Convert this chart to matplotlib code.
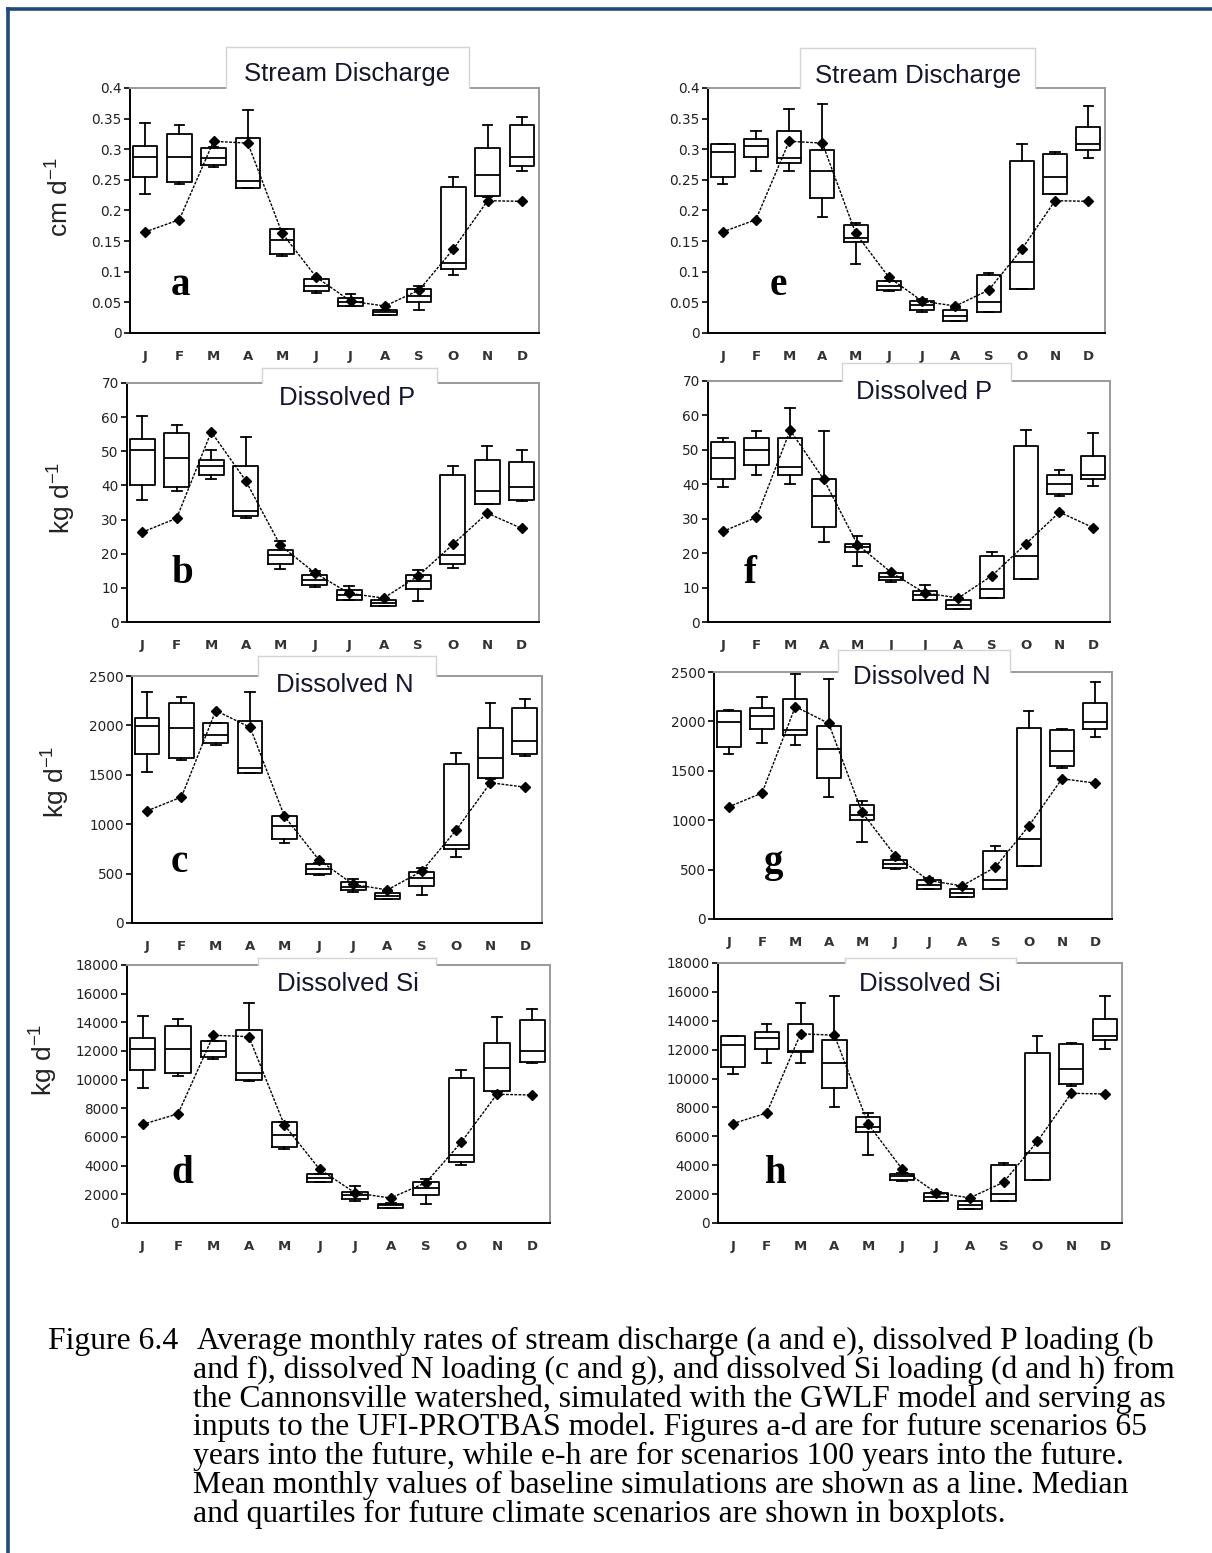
import matplotlib
matplotlib.use("Agg")
import matplotlib.pyplot as plt
from matplotlib.lines import Line2D
from matplotlib.patches import Rectangle

plt.rcParams["mathtext.fontset"] = "custom"
plt.rcParams["mathtext.rm"] = "Liberation Sans"
plt.rcParams["mathtext.default"] = "regular"

W, H = 1212, 1553
DPI = 100

months = ["J", "F", "M", "A", "M", "J", "J", "A", "S", "O", "N", "D"]

# ---- baseline simulations (mean monthly values) ----
base_q = [0.165, 0.185, 0.313, 0.310, 0.163, 0.091, 0.052, 0.044, 0.070, 0.137, 0.216, 0.215]
base_p = [26.3, 30.4, 55.7, 41.4, 22.5, 14.4, 8.4, 7.0, 13.5, 22.7, 31.9, 27.4]
base_n = [1135, 1275, 2150, 1980, 1080, 640, 390, 335, 525, 940, 1420, 1375]
base_si = [6880, 7620, 13100, 13000, 6840, 3740, 2100, 1740, 2820, 5650, 8980, 8930]

# ---- future scenarios, 65 years: stream discharge (cm/d) ----
q65_lo = [0.227, 0.244, 0.271, 0.236, 0.125, 0.066, 0.044, 0.030, 0.037, 0.094, 0.222, 0.264]
q65_q1 = [0.255, 0.246, 0.275, 0.237, 0.129, 0.068, 0.044, 0.030, 0.051, 0.104, 0.224, 0.272]
q65_md = [0.288, 0.288, 0.285, 0.248, 0.152, 0.076, 0.051, 0.034, 0.060, 0.115, 0.258, 0.288]
q65_q3 = [0.306, 0.325, 0.302, 0.318, 0.170, 0.088, 0.057, 0.037, 0.072, 0.238, 0.302, 0.339]
q65_hi = [0.343, 0.340, 0.304, 0.364, 0.170, 0.088, 0.064, 0.037, 0.077, 0.255, 0.339, 0.353]

# ---- future scenarios, 100 years: stream discharge (cm/d) ----
q100_lo = [0.244, 0.265, 0.265, 0.190, 0.112, 0.068, 0.035, 0.019, 0.034, 0.072, 0.227, 0.285]
q100_q1 = [0.255, 0.288, 0.278, 0.220, 0.149, 0.071, 0.037, 0.019, 0.034, 0.072, 0.227, 0.298]
q100_md = [0.296, 0.305, 0.286, 0.265, 0.155, 0.076, 0.046, 0.027, 0.051, 0.116, 0.255, 0.309]
q100_q3 = [0.309, 0.316, 0.329, 0.299, 0.177, 0.085, 0.052, 0.037, 0.095, 0.281, 0.292, 0.336]
q100_hi = [0.309, 0.330, 0.366, 0.374, 0.179, 0.085, 0.056, 0.041, 0.098, 0.309, 0.295, 0.370]

# ---- dissolved P (kg/d), 65 years ----
p65_lo = [35.8, 38.3, 41.9, 30.5, 15.5, 10.3, 6.5, 4.8, 6.1, 15.8, 34.6, 35.3]
p65_q1 = [40.0, 39.5, 43.2, 30.9, 17.0, 10.7, 6.5, 4.8, 9.7, 17.1, 34.6, 35.8]
p65_md = [50.5, 48.0, 45.6, 32.4, 19.7, 12.2, 8.0, 5.6, 12.1, 19.5, 38.3, 39.5]
p65_q3 = [53.6, 55.4, 47.5, 45.6, 21.2, 13.9, 9.5, 6.5, 13.9, 43.2, 47.5, 46.8]
p65_hi = [60.2, 57.8, 50.5, 54.2, 23.6, 14.8, 10.6, 6.7, 15.1, 45.6, 51.6, 50.5]

# ---- dissolved P (kg/d), 100 years ----
p100_lo = [39.1, 42.7, 40.2, 23.3, 16.2, 11.6, 6.3, 3.9, 7.0, 12.4, 36.6, 39.6]
p100_q1 = [41.4, 45.6, 42.7, 27.6, 20.4, 12.1, 6.3, 3.9, 7.0, 12.4, 37.3, 41.4]
p100_md = [47.5, 49.9, 45.1, 36.6, 21.8, 13.1, 7.8, 5.0, 9.5, 19.2, 40.2, 42.7]
p100_q3 = [52.4, 53.5, 53.5, 41.4, 22.8, 14.3, 8.9, 6.3, 19.2, 51.1, 42.7, 48.2]
p100_hi = [53.5, 55.5, 62.1, 55.5, 25.0, 14.3, 10.7, 6.8, 20.4, 55.9, 44.1, 55.0]

# ---- dissolved N (kg/d), 65 years ----
n65_lo = [1526, 1651, 1802, 1516, 809, 482, 313, 243, 286, 667, 1455, 1695]
n65_q1 = [1711, 1668, 1819, 1523, 852, 499, 337, 243, 371, 748, 1465, 1711]
n65_md = [1994, 1971, 1903, 1567, 984, 546, 364, 276, 455, 792, 1674, 1843]
n65_q3 = [2072, 2223, 2028, 2048, 1085, 600, 411, 303, 515, 1607, 1971, 2180]
n65_hi = [2341, 2284, 2028, 2341, 1088, 606, 448, 320, 556, 1718, 2223, 2264]

# ---- dissolved N (kg/d), 100 years ----
n100_lo = [1673, 1781, 1765, 1235, 776, 506, 304, 223, 307, 540, 1528, 1842]
n100_q1 = [1738, 1927, 1866, 1427, 1005, 516, 304, 223, 307, 540, 1545, 1927]
n100_md = [1994, 2058, 1916, 1721, 1056, 560, 348, 263, 398, 813, 1704, 1994]
n100_q3 = [2102, 2136, 2227, 1950, 1150, 600, 391, 304, 692, 1933, 1910, 2186]
n100_hi = [2119, 2247, 2483, 2433, 1191, 607, 415, 331, 736, 2102, 1923, 2396]

# ---- dissolved Si (kg/d), 65 years ----
si65_lo = [9386, 10271, 11435, 9898, 5194, 2865, 1537, 1071, 1351, 4029, 9153, 11133]
si65_q1 = [10667, 10434, 11552, 9968, 5310, 2865, 1700, 1071, 1980, 4262, 9200, 11249]
si65_md = [12134, 12134, 11994, 10434, 6125, 3144, 1980, 1234, 2469, 4728, 10830, 11994]
si65_q3 = [12879, 13741, 12693, 13462, 7057, 3400, 2166, 1351, 2865, 10085, 12577, 14161]
si65_hi = [14463, 14207, 12693, 15325, 7057, 3447, 2562, 1421, 3098, 10667, 14347, 14929]

# ---- dissolved Si (kg/d), 100 years ----
si100_lo = [10340, 11078, 11078, 8032, 4731, 2931, 1546, 969, 1546, 2954, 9509, 12048]
si100_q1 = [10778, 12071, 11817, 9347, 6301, 3000, 1546, 969, 1546, 2954, 9647, 12648]
si100_md = [12348, 12809, 11932, 11078, 6624, 3277, 1777, 1223, 2008, 4847, 10663, 12925]
si100_q3 = [12971, 13225, 13779, 12648, 7339, 3416, 2077, 1546, 4039, 11771, 12394, 14125]
si100_hi = [12971, 13802, 15233, 15694, 7616, 3462, 2146, 1546, 4154, 12971, 12463, 15694]

titles = ["Stream Discharge", "Dissolved P", "Dissolved N", "Dissolved Si"]
ylabels = ["cm d$^{-1}$", "kg d$^{-1}$", "kg d$^{-1}$", "kg d$^{-1}$"]
yticks = [
    ([0, 0.05, 0.1, 0.15, 0.2, 0.25, 0.3, 0.35, 0.4],
     ["0", "0.05", "0.1", "0.15", "0.2", "0.25", "0.3", "0.35", "0.4"]),
    (list(range(0, 71, 10)), [str(v) for v in range(0, 71, 10)]),
    (list(range(0, 2501, 500)), [str(v) for v in range(0, 2501, 500)]),
    (list(range(0, 18001, 2000)), [str(v) for v in range(0, 18001, 2000)]),
]
ylims = [(0, 0.4), (0, 70), (0, 2500), (0, 18000)]
baselines = [base_q, base_p, base_n, base_si]

scen65 = [
    (q65_lo, q65_q1, q65_md, q65_q3, q65_hi),
    (p65_lo, p65_q1, p65_md, p65_q3, p65_hi),
    (n65_lo, n65_q1, n65_md, n65_q3, n65_hi),
    (si65_lo, si65_q1, si65_md, si65_q3, si65_hi),
]
scen100 = [
    (q100_lo, q100_q1, q100_md, q100_q3, q100_hi),
    (p100_lo, p100_q1, p100_md, p100_q3, p100_hi),
    (n100_lo, n100_q1, n100_md, n100_q3, n100_hi),
    (si100_lo, si100_q1, si100_md, si100_q3, si100_hi),
]

# panel frames in pixels: (left, top, right, bottom)
frames_left = [(130, 88, 539, 333), (127, 383, 539, 622), (132, 676, 542, 923), (127, 965, 550, 1223)]
frames_right = [(708, 88, 1105, 333), (708, 381, 1110, 622), (714, 672, 1112, 919), (718, 963, 1122, 1223)]
# title boxes: (left, top, right), text centre x, text baseline y
tbox_left = [((226, 47, 469), 347, 81), ((262, 368, 437), 347, 405),
             ((258, 656, 436), 345, 692), ((258, 958, 436), 348, 991)]
tbox_right = [((800, 48, 1035), 918, 83), ((842, 363, 1011), 924, 399),
              ((838, 650, 1010), 922, 684), ((845, 958, 1016), 930, 991)]
letters_left = [("a", 181, 295), ("b", 182, 583), ("c", 179, 872), ("d", 182, 1183)]
letters_right = [("e", 778, 295), ("f", 750, 583), ("g", 774, 872), ("h", 775, 1183)]
ylab_pos = [(60, 197), (62, 498), (56, 782), (44, 1060)]

fig = plt.figure(figsize=(W / DPI, H / DPI), dpi=DPI)
fig.patch.set_facecolor("white")


def fx(x):
    return x / W


def fy(y):
    return 1 - y / H


def make_panel(frame, stats, base, ylim, ticks, tbox, letter, title):
    l, t, r, b = frame
    ax = fig.add_axes([fx(l), fy(b), (r - l) / W, (b - t) / H])
    lo, q1, md, q3, hi = stats
    bstats = [dict(whislo=lo[i], q1=q1[i], med=md[i], q3=q3[i], whishi=hi[i], fliers=[])
              for i in range(12)]
    pos = list(range(1, 13))
    lp = dict(color="black", linewidth=1.3)
    ax.bxp(bstats, positions=pos, widths=0.72, capwidths=0.28, showfliers=False,
           boxprops=lp, whiskerprops=lp, capprops=lp, medianprops=lp,
           manage_ticks=False, zorder=2)
    ax.plot(pos, base, color="black", linewidth=1.0, linestyle=(0, (2.0, 1.0)),
            marker="D", markersize=5, markerfacecolor="black", markeredgecolor="black",
            zorder=3)
    ax.set_xlim(0.56, 12.5)
    ax.set_ylim(*ylim)
    ax.set_yticks(ticks[0])
    ax.set_yticklabels(ticks[1])
    ax.set_xticks(pos)
    ax.set_xticklabels(months)
    ax.tick_params(axis="y", direction="out", length=4, width=1.2, pad=2,
                   labelsize=9.8, labelcolor="#222222", color="black")
    ax.tick_params(axis="x", length=0, pad=12, labelsize=9.5, labelcolor="#333333")
    for lab in ax.get_xticklabels():
        lab.set_fontweight("bold")
    for s in ("left", "bottom"):
        ax.spines[s].set_color("black")
        ax.spines[s].set_linewidth(1.4)
    for s in ("top", "right"):
        ax.spines[s].set_color("#9a9a9a")
        ax.spines[s].set_linewidth(1.4)

    # title box sitting on the top frame
    (bl, bt, br), tx, ty = tbox
    fig.add_artist(Rectangle((fx(bl), fy(t + 2)), (br - bl) / W, (t + 2 - bt) / H,
                             transform=fig.transFigure, facecolor="white",
                             edgecolor="none", zorder=5))
    edge = dict(color="#d4d4d4", linewidth=1.0, transform=fig.transFigure, zorder=6)
    fig.add_artist(Line2D([fx(bl), fx(br)], [fy(bt), fy(bt)], **edge))
    fig.add_artist(Line2D([fx(bl), fx(bl)], [fy(bt), fy(t)], **edge))
    fig.add_artist(Line2D([fx(br), fx(br)], [fy(bt), fy(t)], **edge))
    fig.text(fx(tx), fy(ty), title, ha="center", va="baseline",
             fontsize=18.5, family="Liberation Sans", color="#15152e", zorder=7)

    ch, cx, cy = letter
    fig.text(fx(cx), fy(cy), ch, ha="center", va="baseline", fontsize=28,
             family="Liberation Serif", fontweight="bold", color="black", zorder=7)
    return ax


for i in range(4):
    make_panel(frames_left[i], scen65[i], baselines[i], ylims[i], yticks[i],
               tbox_left[i], letters_left[i], titles[i])
    make_panel(frames_right[i], scen100[i], baselines[i], ylims[i], yticks[i],
               tbox_right[i], letters_right[i], titles[i])
    x, y = ylab_pos[i]
    fig.text(fx(x), fy(y), ylabels[i], rotation=90, ha="center", va="center",
             fontsize=19, family="Liberation Sans", color="#222222")

# caption with hanging indent
caption_head = "Figure 6.4"
caption = [
    "Average monthly rates of stream discharge (a and e), dissolved P loading (b",
    "and f), dissolved N loading (c and g), and dissolved Si loading (d and h) from",
    "the Cannonsville watershed, simulated with the GWLF model and serving as",
    "inputs to the UFI-PROTBAS model. Figures a-d are for future scenarios 65",
    "years into the future, while e-h are for scenarios 100 years into the future.",
    "Mean monthly values of baseline simulations are shown as a line. Median",
    "and quartiles for future climate scenarios are shown in boxplots.",
]
cap_style = dict(ha="left", va="baseline", fontsize=22.8,
                 family="Liberation Serif", color="black")
fig.text(fx(48), fy(1349), caption_head, **cap_style)
for k, line in enumerate(caption):
    x0 = 197 if k == 0 else 193
    fig.text(fx(x0), fy(1349 + 28.8 * k), line, **cap_style)

# page frame
border = dict(color="#1f4a7c", linewidth=2.6, transform=fig.transFigure, zorder=8)
fig.add_artist(Line2D([fx(7.5), 1.0], [fy(8.5), fy(8.5)], **border))
fig.add_artist(Line2D([fx(7.5), fx(7.5)], [fy(8.5), 0.0], **border))

fig.savefig("out.png", dpi=DPI, facecolor="white")
